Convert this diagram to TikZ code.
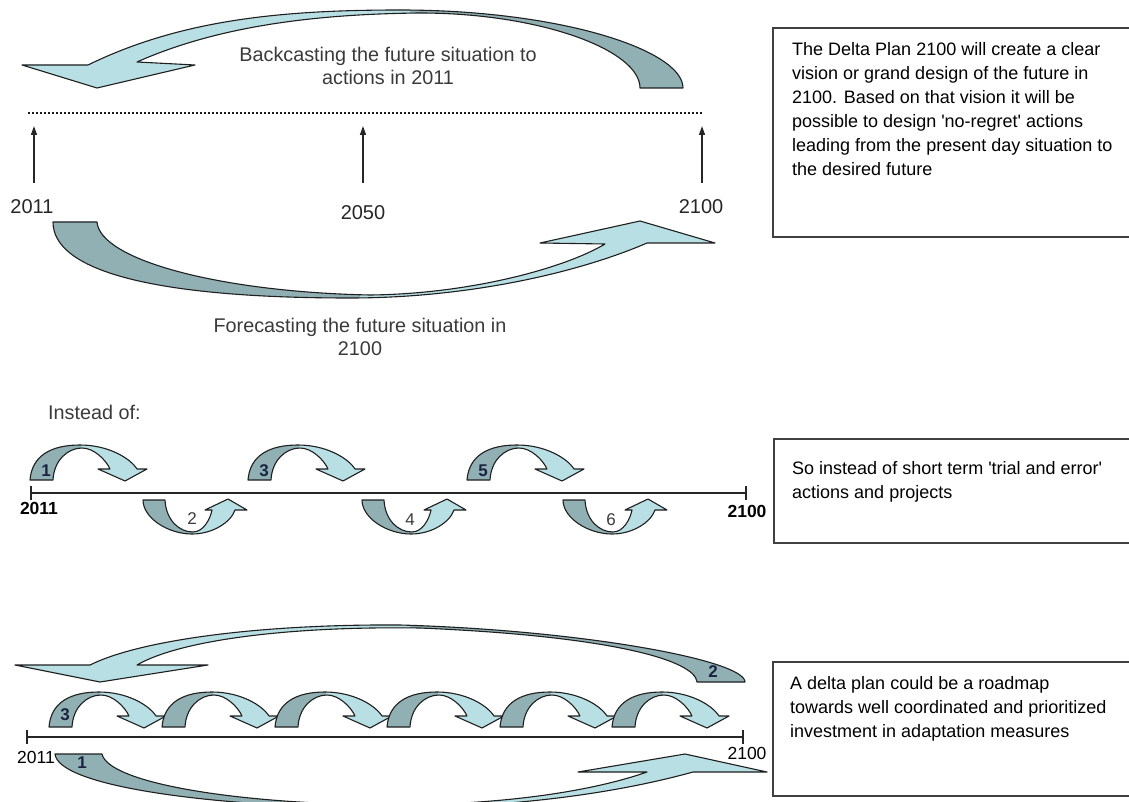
\documentclass[tikz,border=0pt]{standalone}
\usepackage{fontspec}
\setmainfont{Liberation Sans}
\usetikzlibrary{arrows.meta}

\definecolor{dkteal}{HTML}{91B0B4}
\definecolor{ltteal}{HTML}{B8DFE4}
\definecolor{edgec}{HTML}{1F1F1F}
\definecolor{capgrey}{HTML}{3A3A3A}
\definecolor{numblue}{HTML}{1B2542}
\definecolor{framec}{HTML}{404040}

\tikzset{
  shapeedge/.style={draw=edgec, line width=1.1pt, line join=round},
  % small arrow jumping over the time line: tail at the origin, head to the right
  overshape/.style={insert path={(0,0) .. controls (2,-25) and (22,-35) .. (50,-35)
      .. controls (78,-35) and (100,-22) .. (107,-11) -- (117,-11) -- (95,1) -- (68,-11)
      -- (80,-11) .. controls (76,-20) and (64,-32) .. (52,-32)
      .. controls (38,-32) and (24,-20) .. (23,0) -- cycle}},
  % small arrow dipping under the time line
  undershape/.style={insert path={(0,0) .. controls (0,18) and (25,34) .. (49,34)
      .. controls (70,34) and (88,22) .. (92,10) -- (104,10) -- (85,-1) -- (62,10)
      -- (69,10) .. controls (67,20) and (60,32) .. (50,32)
      .. controls (36,32) and (23,20) .. (22,0) -- cycle}},
  hopover/.pic={
    \fill[dkteal, overshape];
    \begin{scope}
      \clip (51,-45) rectangle (130,10);
      \fill[ltteal, overshape];
    \end{scope}
    \path[shapeedge, overshape];
  },
  hopunder/.pic={
    \fill[dkteal, undershape];
    \begin{scope}
      \clip (49.5,-10) rectangle (120,45);
      \fill[ltteal, undershape];
    \end{scope}
    \path[shapeedge, undershape];
  },
  % large sweeping arrows
  backA/.style={insert path={(88,65) .. controls (180,20) and (280,10) .. (400,10)
      .. controls (560,10) and (683,50) .. (683,88) -- (640,88)
      .. controls (640,50) and (540,13) .. (420,13)
      .. controls (320,14) and (220,25) .. (137,62) -- (195,65) -- (97,88) -- (22,65) -- cycle}},
  foreA/.style={insert path={(53,222) .. controls (53,270) and (150,298) .. (350,298)
      .. controls (470,298) and (580,272) .. (647,243) -- (715,243) -- (640,221) -- (540,243)
      -- (605,244) .. controls (565,268) and (470,294) .. (370,295)
      .. controls (220,292) and (100,260) .. (97,222) -- cycle}},
  backC/.style={insert path={(90,665) .. controls (140,640) and (260,624) .. (400,625)
      .. controls (580,630) and (745,660) .. (745,682) -- (697,682)
      .. controls (695,660) and (610,636) .. (420,628)
      .. controls (290,626) and (180,640) .. (137,665) -- (208,665) -- (100,682) -- (15,665) -- cycle}},
  foreC/.style={insert path={(55,754) .. controls (58,785) and (200,806) .. (370,808)
      .. controls (500,809) and (610,795) .. (693,772) -- (767,772) -- (685,754) -- (578,772)
      -- (647,772) .. controls (590,792) and (500,805) .. (390,805)
      .. controls (230,804) and (108,782) .. (102,754) -- cycle}},
  bodytxt/.style={font=\fontsize{18}{24}\selectfont, text=black, inner sep=0pt,
      anchor=north west, align=left},
  captxt/.style={font=\fontsize{19.8}{23}\selectfont, text=capgrey, inner sep=0pt, align=center},
  yeartxt/.style={font=\fontsize{20}{24}\selectfont, text=black!85, inner sep=0pt},
  yearbold/.style={font=\bfseries\fontsize{17.5}{20}\selectfont, text=black, inner sep=0pt},
  yearsmall/.style={font=\fontsize{17.5}{20}\selectfont, text=black, inner sep=0pt},
  numbold/.style={font=\bfseries\fontsize{17}{20}\selectfont, text=numblue, inner sep=0pt},
  numplain/.style={font=\fontsize{17}{20}\selectfont, text=capgrey, inner sep=0pt},
  frame/.style={draw=framec, line width=1.6pt},
  timeline/.style={draw=black!85, line width=1.3pt},
  dotline/.style={draw=black!90, line width=2.6pt, dash pattern=on 2.4pt off 1.6pt},
  yeararrow/.style={draw=black!85, line width=1.4pt, -{Triangle[length=9pt,width=6pt]}},
}

\begin{document}
\begin{tikzpicture}[x=1pt, y=-1pt]
\useasboundingbox (0,0) rectangle (1129,802);

% ---------- backcasting / forecasting ----------
\fill[dkteal, backA];
\begin{scope}
  \clip (0,0) rectangle (410,100);
  \fill[ltteal, backA];
\end{scope}
\path[shapeedge, backA];

\fill[dkteal, foreA];
\begin{scope}
  \clip (360,200) rectangle (730,310);
  \fill[ltteal, foreA];
\end{scope}
\path[shapeedge, foreA];

\node[captxt] (backcap) at (388,66) {Backcasting the future situation to\\actions in 2011};
\node[captxt] (forecap) at (360,337) {Forecasting the future situation in\\2100};

\coordinate (dotL) at (28,113);
\coordinate (dotR) at (703,113);
\draw[dotline] (dotL) -- (dotR);

\node[yeartxt] (y2011) at (32,207) {2011};
\node[yeartxt] (y2050) at (363,213) {2050};
\node[yeartxt] (y2100) at (701,207) {2100};

\coordinate (u1s) at (34,183);  \coordinate (u1e) at (34,126);
\coordinate (u2s) at (363,183); \coordinate (u2e) at (363,126);
\coordinate (u3s) at (702,183); \coordinate (u3e) at (702,126);
\draw[yeararrow] (u1s) -- (u1e);
\draw[yeararrow] (u2s) -- (u2e);
\draw[yeararrow] (u3s) -- (u3e);

\draw[frame] (1129,28) -- (773,28) -- (773,237) -- (1129,237);
\node[bodytxt] (boxone) at (792,41) {\rule{0pt}{14pt}The Delta Plan 2100 will create a clear\\
vision or grand design of the future in\\
2100. Based on that vision it will be\\
possible to design \textquotesingle no-regret\textquotesingle{} actions\\
leading from the present day situation to\\
the desired future};

% ---------- trial and error ----------
\node[captxt, anchor=west] (instead) at (48,412) {Instead of:};

\pic at (30,480) {hopover};
\pic at (248,480) {hopover};
\pic at (467,480) {hopover};
\pic at (143,500) {hopunder};
\pic at (362,500) {hopunder};
\pic at (563,500) {hopunder};

\node[numbold] (s1) at (46,471) {1};
\node[numbold] (s3) at (264,471) {3};
\node[numbold] (s5) at (483,471) {5};
\node[numplain] (s2) at (192,519) {2};
\node[numplain] (s4) at (410,520) {4};
\node[numplain] (s6) at (611,520) {6};

\coordinate (tlA) at (31,493);
\coordinate (tlB) at (746,493);
\draw[timeline] (tlA) -- (tlB);
\draw[timeline] (31,486) -- (31,500);
\draw[timeline] (746,486) -- (746,500);
\node[yearbold] (t2011) at (39,508) {2011};
\node[yearbold] (t2100) at (747,511) {2100};

\draw[frame] (1129,439) -- (774,439) -- (774,543) -- (1129,543);
\node[bodytxt] (boxtwo) at (792,460) {\rule{0pt}{14pt}So instead of short term \textquotesingle trial and error\textquotesingle\\
actions and projects};

% ---------- roadmap ----------
\fill[dkteal, backC];
\begin{scope}
  \clip (0,600) rectangle (410,700);
  \fill[ltteal, backC];
\end{scope}
\path[shapeedge, backC];

\pic at (49,727) {hopover};
\pic at (162,727) {hopover};
\pic at (275,727) {hopover};
\pic at (387,727) {hopover};
\pic at (500,727) {hopover};
\pic at (612,727) {hopover};

\coordinate (tlC) at (27,737);
\coordinate (tlD) at (743,737);
\draw[timeline] (tlC) -- (tlD);
\draw[timeline] (27,730) -- (27,744);
\draw[timeline] (743,730) -- (743,744);

\fill[dkteal, foreC];
\begin{scope}
  \clip (380,740) rectangle (790,820);
  \fill[ltteal, foreC];
\end{scope}
\path[shapeedge, foreC];

\node[yearsmall] (r2011) at (36,757) {2011};
\node[yearsmall] (r2100) at (747,753) {2100};
\node[numbold] (r3) at (65,715) {3};
\node[numbold] (r2) at (713,672) {2};
\node[numbold] (r1) at (82,763) {1};

\draw[frame] (1129,662) -- (773,662) -- (773,796) -- (1129,796);
\node[bodytxt] (boxthree) at (790,675) {\rule{0pt}{14pt}A delta plan could be a roadmap\\
towards well coordinated and prioritized\\
investment in adaptation measures};

\end{tikzpicture}
\end{document}
